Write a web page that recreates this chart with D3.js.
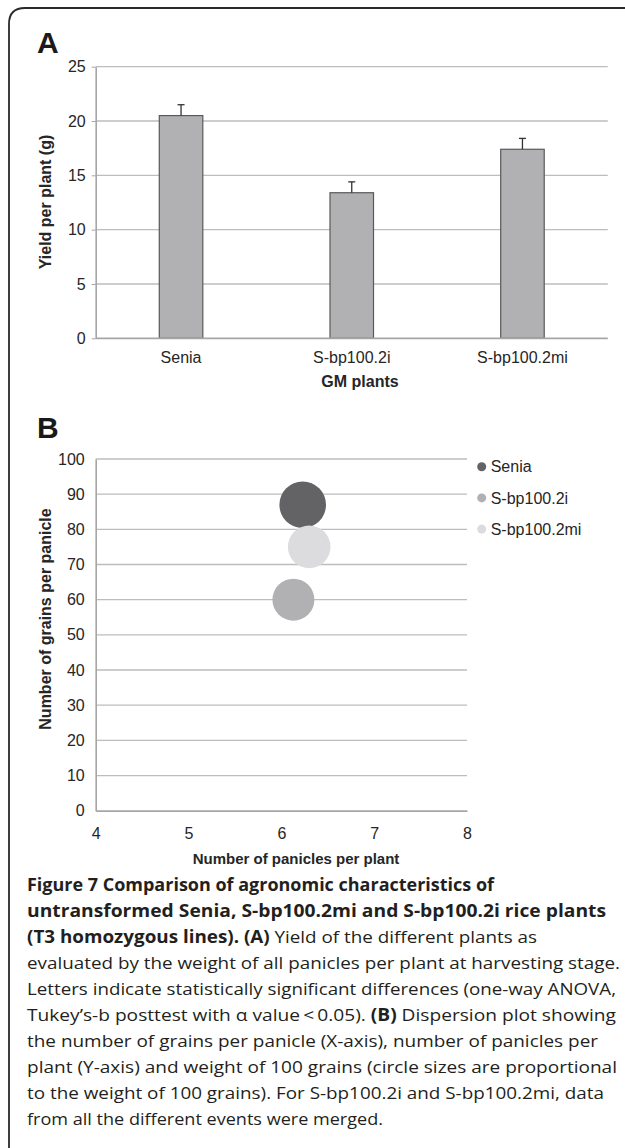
<!DOCTYPE html>
<html>
<head>
<meta charset="utf-8">
<script src="https://cdn.jsdelivr.net/npm/d3@7"></script>
<style>
  body { margin: 0; background: #fff; }
  svg { display: block; }
</style>
</head>
<body>
<div id="chart"></div>
<script>
// panel A data
var categories = ["Senia", "S-bp100.2i", "S-bp100.2mi"];
var yieldMeans = [20.5, 13.4, 17.4];
var yieldErr = [1.0, 1.0, 1.0];
var yTicksA = [0, 5, 10, 15, 20, 25];

// panel B data
var seriesNames = ["Senia", "S-bp100.2i", "S-bp100.2mi"];
var paniclesPerPlant = [6.23, 6.13, 6.30];
var grainsPerPanicle = [87, 60, 75];
var weight100 = [2.75, 2.23, 2.30];
var seriesColors = ["#636365", "#b1b1b3", "#dcdcde"];
var xTicksB = [4, 5, 6, 7, 8];
var yTicksB = [0, 10, 20, 30, 40, 50, 60, 70, 80, 90, 100];

// caption, [text, bold] runs per line, with fitted widths
var captionLines = [
  [["Figure 7 Comparison of agronomic characteristics of", true]],
  [["untransformed Senia, S-bp100.2mi and S-bp100.2i rice plants", true]],
  [["(T3 homozygous lines). (A)", true], [" Yield of the different plants as", false]],
  [["evaluated by the weight of all panicles per plant at harvesting stage.", false]],
  [["Letters indicate statistically significant differences (one-way ANOVA,", false]],
  [["Tukey\u2019s-b posttest with \u03b1 value\u2009<\u20090.05). ", false], ["(B)", true], [" Dispersion plot showing", false]],
  [["the number of grains per panicle (X-axis), number of panicles per", false]],
  [["plant (Y-axis) and weight of 100 grains (circle sizes are proportional", false]],
  [["to the weight of 100 grains). For S-bp100.2i and S-bp100.2mi, data", false]],
  [["from all the different events were merged.", false]]
];
var captionWidths = [467, 579, 510, 593, 589, 589, 571, 590, 577, 356];

var W = 625, H = 1148;
var font = "'Liberation Sans', Arial, sans-serif";
var ink = "#262626";

var svg = d3.select("#chart").append("svg")
    .attr("width", W)
    .attr("height", H);

// frame with rounded top-left corner, running off the right and bottom
svg.append("path")
    .attr("d", "M9," + (H + 5) + " L9,24 Q9,8 25,8 L" + (W + 5) + ",8")
    .attr("fill", "none")
    .attr("stroke", "#2a2a2a")
    .attr("stroke-width", 1.8);

function panelLabel(t, x, y) {
  svg.append("text")
      .attr("x", x).attr("y", y)
      .attr("font-family", font)
      .attr("font-weight", "bold")
      .attr("font-size", 30)
      .attr("fill", "#1a1a1a")
      .text(t);
}

// ---------- panel A: bar chart ----------
panelLabel("A", 37, 53);

var ax = d3.scaleBand().domain(categories).range([95.7, 607.8]).padding(0);
var ay = d3.scaleLinear().domain([0, 25]).range([338.3, 66.7]);
var barW = ax.bandwidth() * 0.255;

var gA = svg.append("g");

gA.selectAll(".grid").data(yTicksA.filter(function(d) { return d > 0; }))
  .enter().append("line")
    .attr("x1", 95.7).attr("x2", 607.8)
    .attr("y1", function(d) { return ay(d); })
    .attr("y2", function(d) { return ay(d); })
    .attr("stroke", "#bdbdbd")
    .attr("stroke-width", 1.3);

var yAxisA = gA.append("g")
    .attr("transform", "translate(95.7,0)")
    .call(d3.axisLeft(ay).tickValues(yTicksA).tickSize(4).tickPadding(6).tickSizeOuter(0));
yAxisA.select(".domain").attr("stroke", "#a6a6a6").attr("stroke-width", 1.6);
yAxisA.selectAll(".tick line").attr("stroke", "#a6a6a6");
yAxisA.selectAll("text").attr("font-family", font).attr("font-size", 16).attr("fill", ink);

gA.selectAll(".bar").data(categories)
  .enter().append("rect")
    .attr("x", function(d) { return ax(d) + ax.bandwidth() / 2 - barW / 2; })
    .attr("y", function(d, i) { return ay(yieldMeans[i]); })
    .attr("width", barW)
    .attr("height", function(d, i) { return ay(0) - ay(yieldMeans[i]); })
    .attr("fill", "#b1b1b3")
    .attr("stroke", "#595959")
    .attr("stroke-width", 1.2);

// error bars (upper only)
var err = gA.selectAll(".err").data(categories).enter().append("g");
err.append("line")
    .attr("x1", function(d) { return ax(d) + ax.bandwidth() / 2; })
    .attr("x2", function(d) { return ax(d) + ax.bandwidth() / 2; })
    .attr("y1", function(d, i) { return ay(yieldMeans[i]); })
    .attr("y2", function(d, i) { return ay(yieldMeans[i] + yieldErr[i]); })
    .attr("stroke", "#333").attr("stroke-width", 1.3);
err.append("line")
    .attr("x1", function(d) { return ax(d) + ax.bandwidth() / 2 - 3.5; })
    .attr("x2", function(d) { return ax(d) + ax.bandwidth() / 2 + 3.5; })
    .attr("y1", function(d, i) { return ay(yieldMeans[i] + yieldErr[i]); })
    .attr("y2", function(d, i) { return ay(yieldMeans[i] + yieldErr[i]); })
    .attr("stroke", "#333").attr("stroke-width", 1.3);

// baseline
gA.append("line")
    .attr("x1", 95.7).attr("x2", 607.8)
    .attr("y1", ay(0)).attr("y2", ay(0))
    .attr("stroke", "#a6a6a6").attr("stroke-width", 1.8);

var xAxisA = gA.append("g")
    .attr("transform", "translate(0," + ay(0) + ")")
    .call(d3.axisBottom(ax).tickSize(0).tickPadding(13));
xAxisA.select(".domain").remove();
xAxisA.selectAll("text").attr("font-family", font).attr("font-size", 16).attr("fill", ink);

gA.append("text")
    .attr("x", 360).attr("y", 387)
    .attr("text-anchor", "middle")
    .attr("font-family", font).attr("font-weight", "bold").attr("font-size", 16)
    .attr("fill", ink)
    .text("GM plants");

gA.append("text")
    .attr("transform", "translate(51," + 202 + ") rotate(-90)")
    .attr("text-anchor", "middle")
    .attr("font-family", font).attr("font-weight", "bold").attr("font-size", 16)
    .attr("fill", ink)
    .text("Yield per plant (g)");

// ---------- panel B: bubble chart ----------
panelLabel("B", 37, 438);

var bx = d3.scaleLinear().domain([4, 8]).range([95.7, 467]);
var by = d3.scaleLinear().domain([0, 100]).range([810.7, 459]);
var br = d3.scaleSqrt().domain([0, 2.75]).range([0, 23.3]);

var gB = svg.append("g");

gB.selectAll(".grid").data(yTicksB.filter(function(d) { return d > 0; }))
  .enter().append("line")
    .attr("x1", 95.7).attr("x2", 467)
    .attr("y1", function(d) { return by(d); })
    .attr("y2", function(d) { return by(d); })
    .attr("stroke", "#bdbdbd")
    .attr("stroke-width", 1.3);

var yAxisB = gB.append("g")
    .attr("transform", "translate(95.7,0)")
    .call(d3.axisLeft(by).tickValues(yTicksB).tickSize(0).tickPadding(11));
yAxisB.select(".domain").attr("stroke", "#a6a6a6").attr("stroke-width", 1.6);
yAxisB.selectAll("text").attr("font-family", font).attr("font-size", 16).attr("fill", ink);

var xAxisB = gB.append("g")
    .attr("transform", "translate(0," + by(0) + ")")
    .call(d3.axisBottom(bx).tickValues(xTicksB).tickFormat(d3.format("d")).tickSize(0).tickPadding(17));
xAxisB.select(".domain").attr("stroke", "#a6a6a6").attr("stroke-width", 1.8);
xAxisB.selectAll("text").attr("font-family", font).attr("font-size", 16).attr("fill", ink);

// bubbles, drawn in series order
gB.selectAll(".bubble").data(seriesNames)
  .enter().append("circle")
    .attr("cx", function(d, i) { return bx(paniclesPerPlant[i]); })
    .attr("cy", function(d, i) { return by(grainsPerPanicle[i]); })
    .attr("r", function(d, i) { return br(weight100[i]); })
    .attr("fill", function(d, i) { return seriesColors[i]; });

// legend
var leg = gB.selectAll(".leg").data(seriesNames)
  .enter().append("g")
    .attr("transform", function(d, i) { return "translate(481.7," + (466.7 + i * 31.2) + ")"; });
leg.append("circle").attr("r", 4.5).attr("fill", function(d, i) { return seriesColors[i]; });
leg.append("text")
    .attr("x", 9).attr("dy", "0.36em")
    .attr("font-family", font).attr("font-size", 16).attr("fill", ink)
    .text(function(d) { return d; });

gB.append("text")
    .attr("x", 296).attr("y", 864)
    .attr("text-anchor", "middle")
    .attr("font-family", font).attr("font-weight", "bold").attr("font-size", 15)
    .attr("fill", ink)
    .text("Number of panicles per plant");

gB.append("text")
    .attr("transform", "translate(51,619) rotate(-90)")
    .attr("text-anchor", "middle")
    .attr("font-family", font).attr("font-weight", "bold").attr("font-size", 16)
    .attr("fill", ink)
    .text("Number of grains per panicle");

// ---------- caption ----------
var cap = svg.append("g");
captionLines.forEach(function(runs, i) {
  var t = cap.append("text")
      .attr("x", 27)
      .attr("y", 891 + i * 26)
      .attr("font-family", "'Open Sans', 'Noto Sans', sans-serif")
      .attr("font-size", 17)
      .attr("fill", "#231f20")
      .attr("textLength", captionWidths[i])
      .attr("lengthAdjust", "spacingAndGlyphs");
  runs.forEach(function(r) {
    t.append("tspan")
        .attr("font-weight", r[1] ? "bold" : "normal")
        .text(r[0]);
  });
});
</script>
</body>
</html>
